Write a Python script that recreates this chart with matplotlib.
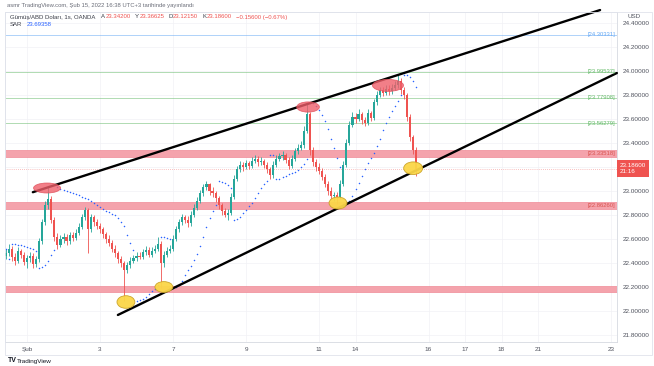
import numpy as np
import matplotlib
matplotlib.use("Agg")
import matplotlib.pyplot as plt
from matplotlib.patches import Ellipse, Rectangle
from matplotlib.ticker import FuncFormatter
from matplotlib.transforms import blended_transform_factory

plt.rcParams["font.family"] = ["Liberation Sans", "DejaVu Sans"]

# 2-hour candles, x measured in trading days from Feb 1 (Şub)
first_open = 22.46
closes = [
    22.48, 22.52, 22.45, 22.42, 22.50, 22.47, 22.41,
    22.44, 22.46, 22.39, 22.43, 22.58, 22.74,
    22.88, 22.93, 22.76, 22.62, 22.55, 22.60,
    22.62, 22.58, 22.63, 22.61, 22.65, 22.70, 22.78, 22.84, 22.68, 22.78, 22.74, 22.71,
    22.68, 22.64, 22.60, 22.57, 22.52, 22.48, 22.43, 22.40, 22.34, 22.38, 22.42, 22.44,
    22.46, 22.45, 22.49, 22.51, 22.47, 22.50, 22.52, 22.56, 22.40, 22.47, 22.50, 22.52,
    22.60, 22.68, 22.74, 22.78, 22.76, 22.73, 22.80, 22.86, 22.92, 22.98, 23.03, 23.06,
    23.00, 22.98, 22.94, 22.88, 22.83, 22.80, 22.82, 22.95, 23.10, 23.18, 23.22, 23.20,
    23.23, 23.21, 23.25, 23.27, 23.24, 23.25, 23.22, 23.18, 23.13, 23.22, 23.27, 23.29,
    23.30, 23.26, 23.21, 23.27, 23.33, 23.36, 23.38, 23.50, 23.64, 23.34, 23.24, 23.20,
    23.17, 23.12, 23.06, 23.00, 22.96, 22.97, 22.95, 23.06, 23.22, 23.40, 23.55, 23.62,
    23.60, 23.64, 23.59, 23.57, 23.65, 23.61, 23.74, 23.80, 23.84, 23.82, 23.85, 23.83,
    23.86, 23.88, 23.92, 23.84, 23.80, 23.62, 23.45, 23.342, 23.186,
]
highs = [
    22.52, 22.56, 22.54, 22.48, 22.53, 22.52, 22.49,
    22.47, 22.49, 22.48, 22.46, 22.61, 22.77,
    22.92, 23.03, 22.96, 22.78, 22.65, 22.63,
    22.65, 22.64, 22.66, 22.66, 22.68, 22.73, 22.81, 22.87, 22.86, 22.81, 22.80, 22.77,
    22.73, 22.70, 22.66, 22.63, 22.59, 22.55, 22.50, 22.46, 22.42, 22.41, 22.45, 22.47,
    22.49, 22.49, 22.52, 22.54, 22.53, 22.53, 22.55, 22.62, 22.58, 22.50, 22.53, 22.55,
    22.63, 22.71, 22.77, 22.81, 22.80, 22.79, 22.83, 22.89, 22.95, 23.01, 23.06, 23.08,
    23.07, 23.03, 23.00, 22.96, 22.90, 22.86, 22.85, 22.98, 23.13, 23.21, 23.25, 23.24,
    23.26, 23.25, 23.28, 23.30, 23.29, 23.28, 23.27, 23.24, 23.20, 23.25, 23.30, 23.32,
    23.33, 23.32, 23.28, 23.30, 23.36, 23.39, 23.42, 23.54, 23.73, 23.66, 23.37, 23.27,
    23.23, 23.19, 23.14, 23.08, 23.03, 22.99, 22.99, 23.09, 23.25, 23.43, 23.58, 23.66,
    23.65, 23.68, 23.66, 23.62, 23.68, 23.67, 23.77, 23.83, 23.87, 23.87, 23.88, 23.88,
    23.89, 23.92, 23.97, 23.94, 23.87, 23.82, 23.64, 23.47, 23.36625,
]
lows = [
    22.43, 22.46, 22.42, 22.38, 22.40, 22.44, 22.38,
    22.36, 22.41, 22.36, 22.37, 22.41, 22.56,
    22.72, 22.85, 22.73, 22.58, 22.52, 22.53,
    22.57, 22.55, 22.56, 22.58, 22.59, 22.63, 22.68, 22.76, 22.48, 22.66, 22.71, 22.68,
    22.65, 22.61, 22.57, 22.54, 22.49, 22.45, 22.40, 22.37, 22.08, 22.32, 22.36, 22.40,
    22.42, 22.43, 22.43, 22.47, 22.45, 22.45, 22.48, 22.50, 22.19, 22.37, 22.45, 22.48,
    22.50, 22.58, 22.66, 22.72, 22.73, 22.70, 22.71, 22.78, 22.84, 22.90, 22.96, 23.01,
    22.97, 22.95, 22.91, 22.85, 22.80, 22.78, 22.76, 22.80, 22.93, 23.08, 23.16, 23.17,
    23.18, 23.18, 23.19, 23.23, 23.21, 23.22, 23.19, 23.15, 23.10, 23.11, 23.20, 23.25,
    23.26, 23.23, 23.18, 23.19, 23.25, 23.31, 23.34, 23.36, 23.48, 23.30, 23.21, 23.17,
    23.14, 23.09, 23.03, 22.97, 22.93, 22.92, 22.89, 22.93, 23.04, 23.20, 23.38, 23.53,
    23.57, 23.58, 23.56, 23.54, 23.55, 23.58, 23.59, 23.72, 23.78, 23.79, 23.80, 23.80,
    23.81, 23.84, 23.86, 23.81, 23.77, 23.58, 23.42, 23.31, 23.1215,
]
bar_start = -7 / 12   # Jan 31 10:00
bar_step = 1 / 12     # 2 hours

day_ticks = [0, 2, 4, 6, 8, 9, 11, 12, 13, 14, 16]
day_labels = ["Şub", "3", "7", "9", "11", "14", "16", "17", "18", "21", "23"]
price_ticks = [21.8, 22.0, 22.2, 22.4, 22.6, 22.8, 23.0, 23.2, 23.4, 23.6, 23.8, 24.0, 24.2, 24.4]

level_prices = [24.30331, 23.99537, 23.77908, 23.56279]
level_colors = ["#64a8f5", "#66bb6a", "#66bb6a", "#66bb6a"]
zone_bounds = [(23.28, 23.34), (22.85, 22.91), (22.16, 22.21)]
zone_labels = ["[23.33518]", "[22.86260]", ""]

# drawings on the chart: trend lines and highlighted touches
trend_lines = [((0.16, 22.99), (15.70, 24.508)), ((2.49, 21.967), (16.16, 23.983))]
red_marks = [(0.55, 23.025, 0.74, 0.083), (7.70, 23.70, 0.62, 0.085), (9.89, 23.88, 0.85, 0.10)]
yellow_marks = [(2.71, 22.075, 0.49, 0.105), (3.75, 22.20, 0.49, 0.09),
                (8.52, 22.90, 0.49, 0.10), (10.58, 23.19, 0.52, 0.105)]
last_price = 23.186


def parabolic_sar(high, low, step=0.02, max_step=0.2):
    sar = [high[0]]
    bull = False
    af = step
    ep = low[0]
    for i in range(1, len(high)):
        prev = sar[-1]
        s = prev + af * (ep - prev)
        if bull:
            s = min(s, low[i - 1], low[max(i - 2, 0)])
            if low[i] < s:
                bull, s, ep, af = False, ep, low[i], step
            elif high[i] > ep:
                ep, af = high[i], min(af + step, max_step)
        else:
            s = max(s, high[i - 1], high[max(i - 2, 0)])
            if high[i] > s:
                bull, s, ep, af = True, ep, high[i], step
            elif low[i] < ep:
                ep, af = low[i], min(af + step, max_step)
        sar.append(s)
    return sar


W, H = 654, 366
fig = plt.figure(figsize=(W / 100, H / 100), dpi=100)
ax = fig.add_axes([5 / W, 1 - 342 / H, 612 / W, 330 / H])
ax.set_xlim(-0.6027, 16.164)
ax.set_ylim(21.7417, 24.4917)

opens = [first_open] + closes[:-1]
x = bar_start + bar_step * np.arange(len(closes))
up = np.array(closes) >= np.array(opens)
cols = np.where(up, "#26a69a", "#ef5350")

# grid
for p in price_ticks:
    ax.axhline(p, color="#f1f2f5", lw=0.5, zorder=0)
for d in day_ticks:
    ax.axvline(d, color="#f1f2f5", lw=0.5, zorder=0)

# zones and level lines
for (lo, hi), lab in zip(zone_bounds, zone_labels):
    ax.axhspan(lo, hi, facecolor="#f4a3ac", edgecolor="#ef8a96", lw=0.5, zorder=1)
    if lab:
        ax.text(0.997, (lo + hi) / 2, lab, transform=blended_transform_factory(ax.transAxes, ax.transData),
                ha="right", va="center", fontsize=4.2, color="#d9534f", zorder=6)
for p, c in zip(level_prices, level_colors):
    ax.axhline(p, color=c, lw=0.6, alpha=0.6, zorder=1)
    ax.text(0.997, p, f"[{p:.5f}]", transform=blended_transform_factory(ax.transAxes, ax.transData),
            ha="right", va="center", fontsize=4.2, color=c, zorder=6)

# candles
ax.vlines(x, lows, highs, colors=cols, lw=0.6, zorder=3)
body = np.array(closes) - np.array(opens)
body = np.where(np.abs(body) < 0.004, 0.004, body)
ax.bar(x, body, bottom=opens, width=bar_step * 0.7, color=cols, lw=0, zorder=3)

# parabolic SAR
sar = parabolic_sar(highs, lows)
ax.plot(x, sar, ls="none", marker="o", ms=1.1, mew=0, color="#2962ff", zorder=4)

# last price line
ax.axhline(last_price, color="#ef5350", lw=0.5, ls=(0, (1, 2)), alpha=0.7, zorder=2)

# trend lines
for (x0, y0), (x1, y1) in trend_lines:
    ax.plot([x0, x1], [y0, y1], color="black", lw=1.7, solid_capstyle="round", zorder=5, clip_on=False)

for cx, cy, w, h in red_marks:
    ax.add_patch(Ellipse((cx, cy), w, h, facecolor="#ef5f6a", edgecolor="#e04f5a", lw=0.6, alpha=0.8, zorder=6))
for cx, cy, w, h in yellow_marks:
    ax.add_patch(Ellipse((cx, cy), w, h, facecolor="#fbd648", edgecolor="#c9a227", lw=0.6, alpha=0.95, zorder=6))

# axes styling
for s in ["top", "left"]:
    ax.spines[s].set_color("#e0e3eb")
    ax.spines[s].set_linewidth(0.6)
for s in ["right", "bottom"]:
    ax.spines[s].set_color("#d6d9e0")
    ax.spines[s].set_linewidth(0.6)
ax.yaxis.tick_right()
ax.set_yticks(price_ticks)
# the price tag hides the scale label right under it
ax.yaxis.set_major_formatter(FuncFormatter(
    lambda v, _: "" if abs(v - last_price) < 0.06 else f"{v:.5f}"))
ax.set_xticks(day_ticks)
ax.set_xticklabels(day_labels)
ax.tick_params(axis="y", length=0, pad=4, labelsize=4.6, labelcolor="#50535e")
ax.tick_params(axis="x", length=0, pad=3.5, labelsize=4.6, labelcolor="#50535e")

# current price tag on the price scale
ax.text(1.004, last_price, "23.18600\n21:16", transform=blended_transform_factory(ax.transAxes, ax.transData),
        ha="left", va="center", fontsize=4.5, color="white", linespacing=1.35, zorder=10, clip_on=False,
        bbox=dict(boxstyle="square,pad=0.45", fc="#ef5350", ec="none"))

# outer frame
fig.add_artist(Rectangle((5 / W, 1 - 355 / H), 647 / W, 343 / H, transform=fig.transFigure,
                         fill=False, ec="#e0e3eb", lw=0.6))
fig.text(634 / W, 1 - 17 / H, "USD", fontsize=4.5, color="#50535e", ha="center", va="center")

# header and legend
fig.text(7 / W, 1 - 6 / H, "asmr TradingView.com, Şub 15, 2022 16:38 UTC+3 tarihinde yayınlandı",
         fontsize=4.2, color="#6a6d78", va="center")
prev = fig.text(10 / W, 1 - 17 / H, "Gümüş/ABD Doları, 1s, OANDA", fontsize=4.3, color="#3a3d47", va="center")
dark, red = "#3a3d47", "#ef5350"
parts = [("A", dark, 4), ("23.34200", red, 0.3), ("Y", dark, 3), ("23.36625", red, 0.3),
         ("D", dark, 3), ("23.12150", red, 0.3), ("K", dark, 3), ("23.18600", red, 0.3),
         ("−0.15600 (−0.67%)", red, 3)]
for txt, c, gap in parts:
    prev = ax.annotate(txt, xy=(1, 0.5), xycoords=prev, xytext=(gap, 0), textcoords="offset points",
                       fontsize=4.3, color=c, va="center", ha="left", annotation_clip=False)
sar_lab = fig.text(10 / W, 1 - 24 / H, "SAR", fontsize=4.3, color=dark, va="center")
ax.annotate("23.69358", xy=(1, 0.5), xycoords=sar_lab, xytext=(3, 0), textcoords="offset points",
            fontsize=4.3, color="#2962ff", va="center", ha="left", annotation_clip=False)

fig.text(8 / W, 1 - 361 / H, "TV", fontsize=5, fontweight="bold", color="#131722", va="center")
fig.text(17 / W, 1 - 361 / H, "TradingView", fontsize=4.6, color="#131722", va="center")

fig.savefig("out.png", dpi=100)
